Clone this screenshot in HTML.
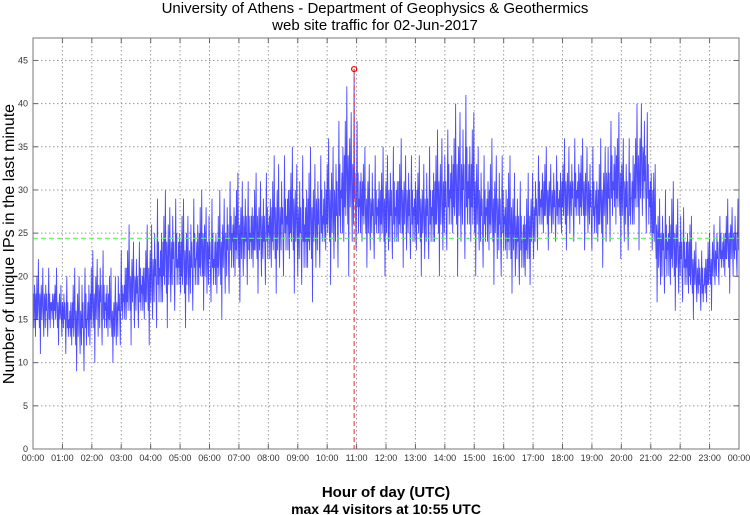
<!DOCTYPE html>
<html><head><meta charset="utf-8"><style>
html,body{margin:0;padding:0;background:#fff;}
svg{display:block;font-family:"Liberation Sans",sans-serif;}
</style></head><body>
<svg id="c" width="750" height="515">
<text x="375" y="13" text-anchor="middle" font-size="15">University of Athens - Department of Geophysics &amp; Geothermics</text>
<text x="375" y="30" text-anchor="middle" font-size="15">web site traffic for 02-Jun-2017</text>
<text x="386" y="497" text-anchor="middle" font-size="15" font-weight="bold">Hour of day (UTC)</text>
<text x="386" y="514" text-anchor="middle" font-size="14" font-weight="bold">max 44 visitors at 10:55 UTC</text>
<text transform="translate(14,244) rotate(-90)" text-anchor="middle" font-size="16">Number of unique IPs in the last minute</text>
<g id="grid"></g><g id="series"></g><g id="overlay"></g>
<rect x="33" y="38" width="706" height="411" fill="none" stroke="#777" stroke-width="1"/>
</svg>
<script>
// half-hour bins: high and low values
const binHi = [23,21,21,23,25,21,27,25,31,31,30,31,30,33,33,33,35,36,36,36,38,44,36,35,37,36,35,38,40,44,36,37,35,32,36,35,37,37,36,41,37,44,31,32,29,24,28,30];
const binLo = [10,12,9,7,10,9,11,12,11,14,13,15,14,16,17,17,17,18,15,18,18,19,20,20,19,20,19,19,20,18,19,18,17,16,22,22,22,22,20,22,20,23,16,15,15,14,17,18];
const yTicks = [0,5,10,15,20,25,30,35,40,45];
const xTickHours = [0,1,2,3,4,5,6,7,8,9,10,11,12,13,14,15,16,17,18,19,20,21,22,23,24];
const meanValue = 24.4;
const maxValue = 44;
const maxMinute = 655;

const L=33,R=739,T=38,B=449,YMAX=47.6;
const xs=m=>L+(R-L)*m/1440;
const ys=v=>B-(B-T)*v/YMAX;
const NS="http://www.w3.org/2000/svg";
function mk(tag,attrs,parent){const e=document.createElementNS(NS,tag);for(const k in attrs)e.setAttribute(k,attrs[k]);parent.appendChild(e);return e;}
const grid=document.getElementById('grid'),series=document.getElementById('series'),ov=document.getElementById('overlay');
yTicks.forEach(v=>{
  const y=ys(v);
  const g=mk('line',{x1:L,x2:R,y1:y,y2:y,stroke:'#999','stroke-dasharray':'1.5,2.5','stroke-width':1},grid);
  
  
  mk('line',{x1:L,x2:L+5,y1:y,y2:y,stroke:'#666'},grid);
  mk('line',{x1:R-5,x2:R,y1:y,y2:y,stroke:'#666'},grid);
  const t=mk('text',{x:L-5,y:y+3,'text-anchor':'end','font-size':9,fill:'#333'},grid);
  t.textContent=v;
  
  
});
xTickHours.forEach(h=>{
  const x=xs(h*60);
  const g=mk('line',{x1:x,x2:x,y1:T,y2:B,stroke:'#999','stroke-dasharray':'1.5,2.5','stroke-width':1},grid);
  
  
  mk('line',{x1:x,x2:x,y1:B-5,y2:B,stroke:'#666'},grid);
  mk('line',{x1:x,x2:x,y1:T,y2:T+5,stroke:'#666'},grid);
  const t=mk('text',{x:x,y:461,'text-anchor':'middle','font-size':9,fill:'#333'},grid);
  t.textContent=String(h%24).padStart(2,'0')+':00';
  
  
});
// deterministic within-bin shape (fraction between low and high)
const shape=[0.45,0.6,0.3,0.7,0.5,0.25,0.65,0.4,0.8,0.35,0.55,0.95,0.45,0.3,0.6,0.05,0.5,0.7,0.35,0.55,0.85,0.4,0.2,0.6,0.5,0.3,0.75,0.45,0.6,0.35,0.15,0.55,0.9,0.4,0.65,0.3,0.5];
function env(arr,m){
  const p=(m-15)/30, i=Math.max(0,Math.min(arr.length-1,Math.floor(p))), j=Math.min(arr.length-1,i+1);
  const t=Math.max(0,Math.min(1,p-i));
  return arr[i]*(1-t)+arr[j]*t;
}
let pts=[];
for(let m=0;m<1440;m++){
  const lo=env(binLo,m),hi=env(binHi,m),f=shape[m%shape.length];
  let v=Math.round(lo+(hi-lo)*f);
  if(m===maxMinute)v=maxValue;
  pts.push(xs(m).toFixed(1)+','+ys(v).toFixed(1));
}
const line=mk('polyline',{points:pts.join(' '),fill:'none',stroke:'#2020ff','stroke-width':0.9,'stroke-opacity':0.8},series);


const ml=mk('line',{x1:L,x2:R,y1:ys(meanValue),y2:ys(meanValue),stroke:'#66ee66','stroke-dasharray':'5,3','stroke-width':1.2},ov);


const vl=mk('line',{x1:xs(maxMinute),x2:xs(maxMinute),y1:ys(maxValue),y2:B,stroke:'#ff2020','stroke-dasharray':'5,3','stroke-width':1},ov);


const mc=mk('circle',{cx:xs(maxMinute),cy:ys(maxValue),r:2.5,fill:'none',stroke:'#ff0000','stroke-width':1.2},ov);


</script>
</body></html>
